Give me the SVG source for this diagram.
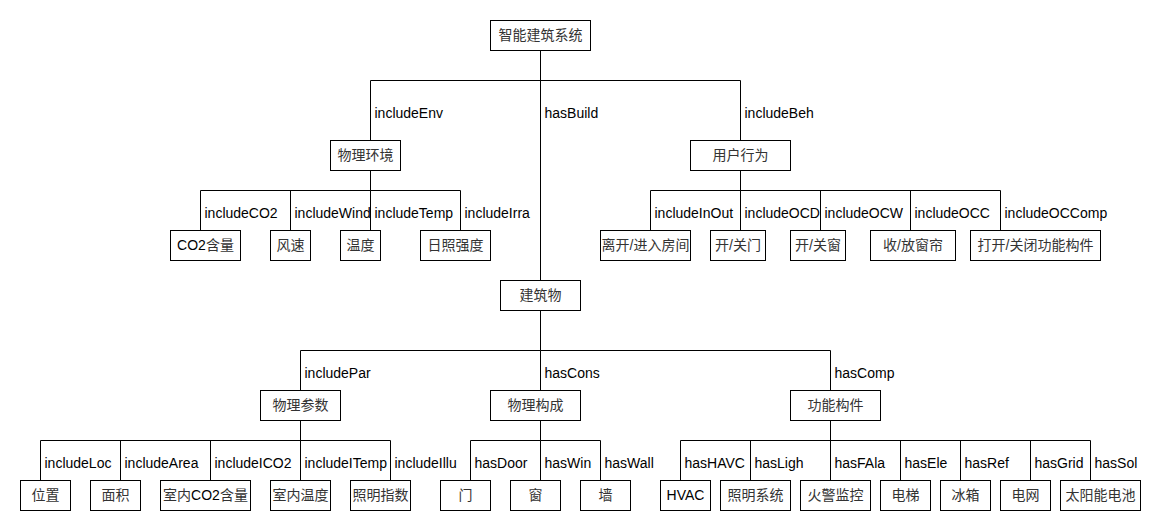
<svg xmlns="http://www.w3.org/2000/svg" width="1170" height="530" viewBox="0 0 1170 530">
  <style>
    .node rect { fill: #ffffff; stroke: #000000; stroke-width: 1; }
    .node text { font-family: "Liberation Sans", "Noto Sans CJK SC", sans-serif; font-size: 14px; text-anchor: middle; fill: #333333; }
    .node text .lat { fill: #000000; }
    #connectors path { fill: none; stroke: #000000; stroke-width: 1; }
    #connectors text { font-family: "Liberation Sans", Arial, sans-serif; font-size: 14px; fill: #000000; }
  </style>
  <rect x="0" y="0" width="1170" height="530" fill="#ffffff"/>
  <g transform="translate(0.5,0.5)">
    <!-- connectors: orthogonal tree edges with their relation names -->
    <g id="connectors">
      <!-- root level -->
      <path d="M540,50 V80 H370 V140"/>
      <path d="M540,50 V280"/>
      <path d="M540,80 H740 V140"/>
      <text x="374" y="117">includeEnv</text>
      <text x="544" y="117">hasBuild</text>
      <text x="744" y="117">includeBeh</text>

      <!-- physical environment -->
      <path d="M370,170 V190 H200 V230"/>
      <path d="M370,190 H290 V230"/>
      <path d="M370,190 V230"/>
      <path d="M370,190 H460 V230"/>
      <text x="204" y="217">includeCO2</text>
      <text x="294" y="217">includeWind</text>
      <text x="374" y="217">includeTemp</text>
      <text x="464" y="217">includeIrra</text>

      <!-- user behaviour -->
      <path d="M740,170 V190 H650 V230"/>
      <path d="M740,190 V230"/>
      <path d="M740,190 H820 V230"/>
      <path d="M740,190 H910 V230"/>
      <path d="M740,190 H1000 V230"/>
      <text x="654" y="217">includeInOut</text>
      <text x="744" y="217">includeOCD</text>
      <text x="824" y="217">includeOCW</text>
      <text x="914" y="217">includeOCC</text>
      <text x="1004" y="217">includeOCComp</text>

      <!-- building -->
      <path d="M540,310 V350 H300 V390"/>
      <path d="M540,350 V390"/>
      <path d="M540,350 H830 V390"/>
      <text x="304" y="377">includePar</text>
      <text x="544" y="377">hasCons</text>
      <text x="834" y="377">hasComp</text>

      <!-- physical parameters -->
      <path d="M300,420 V440 H40 V480"/>
      <path d="M300,440 H120 V480"/>
      <path d="M300,440 H210 V480"/>
      <path d="M300,440 V480"/>
      <path d="M300,440 H390 V480"/>
      <text x="44" y="467">includeLoc</text>
      <text x="124" y="467">includeArea</text>
      <text x="214" y="467">includeICO2</text>
      <text x="304" y="467">includeITemp</text>
      <text x="394" y="467">includeIllu</text>

      <!-- physical construction -->
      <path d="M540,420 V440 H470 V480"/>
      <path d="M540,440 V480"/>
      <path d="M540,440 H600 V480"/>
      <text x="474" y="467">hasDoor</text>
      <text x="544" y="467">hasWin</text>
      <text x="604" y="467">hasWall</text>

      <!-- functional components -->
      <path d="M830,420 V440 H680 V480"/>
      <path d="M830,440 H750 V480"/>
      <path d="M830,440 V480"/>
      <path d="M830,440 H900 V480"/>
      <path d="M830,440 H960 V480"/>
      <path d="M830,440 H1030 V480"/>
      <path d="M830,440 H1090 V480"/>
      <text x="684" y="467">hasHAVC</text>
      <text x="754" y="467">hasLigh</text>
      <text x="834" y="467">hasFAla</text>
      <text x="904" y="467">hasEle</text>
      <text x="964" y="467">hasRef</text>
      <text x="1034" y="467">hasGrid</text>
      <text x="1094" y="467">hasSol</text>
    </g>

    <!-- nodes -->
    <g id="root" class="node"><rect x="490" y="20" width="100" height="30"/><text x="540" y="39">智能建筑系统</text></g>

    <g id="env" class="node"><rect x="330" y="140" width="70" height="30"/><text x="365" y="159">物理环境</text></g>
    <g id="beh" class="node"><rect x="690" y="140" width="100" height="30"/><text x="740" y="159">用户行为</text></g>

    <g id="co2" class="node"><rect x="170" y="230" width="70" height="30"/><text x="205" y="249"><tspan class="lat">CO2</tspan>含量</text></g>
    <g id="wind" class="node"><rect x="270" y="230" width="40" height="30"/><text x="290" y="249">风速</text></g>
    <g id="temp" class="node"><rect x="340" y="230" width="40" height="30"/><text x="360" y="249">温度</text></g>
    <g id="irra" class="node"><rect x="420" y="230" width="70" height="30"/><text x="455" y="249">日照强度</text></g>

    <g id="inout" class="node"><rect x="600" y="230" width="90" height="30"/><text x="645" y="249">离开/进入房间</text></g>
    <g id="ocd" class="node"><rect x="710" y="230" width="55" height="30"/><text x="737.5" y="249">开/关门</text></g>
    <g id="ocw" class="node"><rect x="790" y="230" width="55" height="30"/><text x="817.5" y="249">开/关窗</text></g>
    <g id="occ" class="node"><rect x="870" y="230" width="85" height="30"/><text x="912.5" y="249">收/放窗帘</text></g>
    <g id="occomp" class="node"><rect x="970" y="230" width="130" height="30"/><text x="1035" y="249">打开/关闭功能构件</text></g>

    <g id="build" class="node"><rect x="500" y="280" width="80" height="30"/><text x="540" y="299">建筑物</text></g>

    <g id="par" class="node"><rect x="260" y="390" width="80" height="30"/><text x="300" y="409">物理参数</text></g>
    <g id="cons" class="node"><rect x="490" y="390" width="90" height="30"/><text x="535" y="409">物理构成</text></g>
    <g id="comp" class="node"><rect x="790" y="390" width="90" height="30"/><text x="835" y="409">功能构件</text></g>

    <g id="loc" class="node"><rect x="20" y="480" width="50" height="30"/><text x="45" y="499">位置</text></g>
    <g id="area" class="node"><rect x="90" y="480" width="50" height="30"/><text x="115" y="499">面积</text></g>
    <g id="ico2" class="node"><rect x="160" y="480" width="90" height="30"/><text x="205" y="499">室内<tspan class="lat">CO2</tspan>含量</text></g>
    <g id="itemp" class="node"><rect x="270" y="480" width="60" height="30"/><text x="300" y="499">室内温度</text></g>
    <g id="illu" class="node"><rect x="350" y="480" width="60" height="30"/><text x="380" y="499">照明指数</text></g>

    <g id="door" class="node"><rect x="440" y="480" width="50" height="30"/><text x="465" y="499">门</text></g>
    <g id="win" class="node"><rect x="510" y="480" width="50" height="30"/><text x="535" y="499">窗</text></g>
    <g id="wall" class="node"><rect x="580" y="480" width="50" height="30"/><text x="605" y="499">墙</text></g>

    <g id="havc" class="node"><rect x="660" y="480" width="50" height="30"/><text x="685" y="499"><tspan class="lat">HVAC</tspan></text></g>
    <g id="ligh" class="node"><rect x="720" y="480" width="70" height="30"/><text x="755" y="499">照明系统</text></g>
    <g id="fala" class="node"><rect x="800" y="480" width="70" height="30"/><text x="835" y="499">火警监控</text></g>
    <g id="ele" class="node"><rect x="880" y="480" width="50" height="30"/><text x="905" y="499">电梯</text></g>
    <g id="ref" class="node"><rect x="940" y="480" width="50" height="30"/><text x="965" y="499">冰箱</text></g>
    <g id="grid" class="node"><rect x="1000" y="480" width="50" height="30"/><text x="1025" y="499">电网</text></g>
    <g id="sol" class="node"><rect x="1060" y="480" width="80" height="30"/><text x="1100" y="499">太阳能电池</text></g>
  </g>
</svg>
